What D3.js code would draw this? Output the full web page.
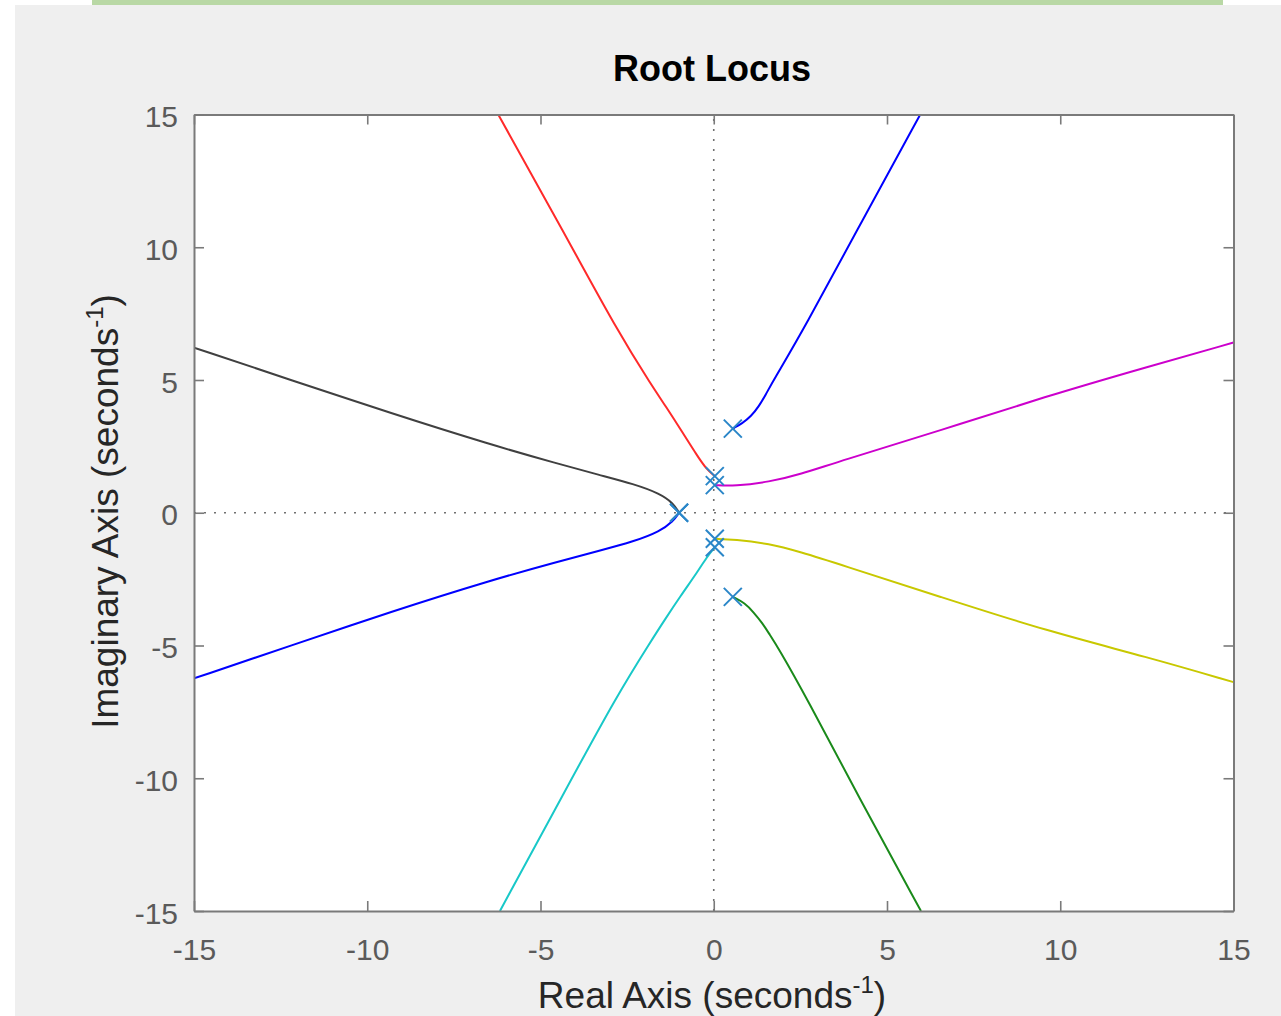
<!DOCTYPE html>
<html>
<head>
<meta charset="utf-8">
<script src="https://cdn.jsdelivr.net/npm/d3@7"></script>
<style>
  html, body { margin: 0; padding: 0; background: #ffffff; }
  svg { display: block; }
  text { font-family: "Liberation Sans", Arial, Helvetica, sans-serif; }
</style>
</head>
<body>
<svg id="chart" width="1281" height="1016"></svg>
<script>
// ---------------- data ----------------
const xTicks = [-15, -10, -5, 0, 5, 10, 15];
const yTicks = [-15, -10, -5, 0, 5, 10, 15];
const titleText = "Root Locus";
const xLabelText = "Real Axis (seconds";
const yLabelText = "Imaginary Axis (seconds";
const unitSup = "-1";

// open-loop poles (x markers)
const polesRe = [-1.0, -1.0, 0.55, 0.55, 0.03, 0.03, 0.03, 0.03];
const polesIm = [0, 0, 3.17, -3.17, 1.04, 1.38, -0.98, -1.30];

// locus branches: [real, imag]
const branchBlack = [[-15, 6.22], [-12.2, 5.0], [-9.3, 3.74], [-6.45, 2.57], [-4.5, 1.85], [-3.3, 1.42], [-2.3, 1.08], [-1.55, 0.72], [-1.17, 0.36], [-1.0, 0]];
const branchBlueLow = [[-15, -6.24], [-12.2, -5.0], [-9.3, -3.72], [-6.45, -2.55], [-4.5, -1.84], [-3.3, -1.43], [-2.3, -1.08], [-1.55, -0.70], [-1.17, -0.32], [-1.0, 0]];
const branchRed = [[-6.22, 15], [-4.3, 10.5], [-2.8, 6.89], [-1.77, 4.75], [-1.38, 4.0], [-0.9, 3.02], [-0.48, 2.15], [-0.2, 1.62], [0.03, 1.38]];
const branchBlueUp = [[0.55, 3.17], [0.82, 3.36], [1.08, 3.64], [1.3, 4.0], [1.5, 4.45], [1.73, 5.0], [2.59, 6.89], [4.3, 11.04], [5.96, 15]];
const branchMagenta = [[0.03, 1.04], [0.6, 1.0], [1.6, 1.16], [2.5, 1.45], [3.58, 1.92], [6.57, 3.11], [9.55, 4.37], [12.53, 5.5], [15, 6.41]];
const branchYellow = [[0.03, -0.98], [0.6, -1.01], [1.6, -1.16], [2.5, -1.48], [3.58, -1.92], [6.57, -3.18], [9.55, -4.43], [12.53, -5.44], [15, -6.38]];
const branchGreen = [[0.55, -3.17], [0.9, -3.4], [1.15, -3.75], [1.4, -4.15], [1.62, -4.6], [1.85, -5.06], [2.65, -6.89], [4.32, -11.04], [5.98, -15]];
const branchCyan = [[0.03, -1.30], [-0.2, -1.67], [-0.48, -2.25], [-0.95, -3.12], [-1.42, -4.04], [-1.77, -4.75], [-2.8, -6.89], [-4.3, -10.5], [-6.17, -15]];

const branches = [branchBlack, branchBlueLow, branchRed, branchBlueUp, branchMagenta, branchYellow, branchGreen, branchCyan];
const branchColors = ["#404040", "#0000ff", "#ff2a2a", "#0000ff", "#cc00cc", "#c8c800", "#1a8a1a", "#18c8c8"];

// ---------------- layout ----------------
const svg = d3.select("#chart");
const W = 1281, H = 1016;
const plot = { left: 194, right: 1233.5, top: 114.5, bottom: 911 };

// page background pieces
svg.append("rect").attr("x", 0).attr("y", 0).attr("width", W).attr("height", H).attr("fill", "#ffffff");
svg.append("rect").attr("x", 15).attr("y", 5).attr("width", W - 15).attr("height", H - 5).attr("fill", "#efefef");
svg.append("rect").attr("x", 92).attr("y", 0).attr("width", 1131).attr("height", 5).attr("fill", "#b9d8a5");

const x = d3.scaleLinear().domain([-15, 15]).range([plot.left, plot.right]);
const y = d3.scaleLinear().domain([-15, 15]).range([plot.bottom, plot.top]);

// plot area
svg.append("rect")
  .attr("x", plot.left).attr("y", plot.top)
  .attr("width", plot.right - plot.left).attr("height", plot.bottom - plot.top)
  .attr("fill", "#ffffff");

svg.append("clipPath").attr("id", "clip")
  .append("rect")
  .attr("x", plot.left).attr("y", plot.top)
  .attr("width", plot.right - plot.left).attr("height", plot.bottom - plot.top);

const g = svg.append("g").attr("clip-path", "url(#clip)");

// dotted zero lines
g.append("line")
  .attr("x1", x(-15)).attr("x2", x(15)).attr("y1", y(0)).attr("y2", y(0))
  .attr("stroke", "#707070").attr("stroke-width", 1.6).attr("stroke-dasharray", "2,8");
g.append("line")
  .attr("x1", x(0)).attr("x2", x(0)).attr("y1", y(-15)).attr("y2", y(15))
  .attr("stroke", "#707070").attr("stroke-width", 1.6).attr("stroke-dasharray", "2,8");

// branches
const line = d3.line()
  .x(d => x(d[0])).y(d => y(d[1]))
  .curve(d3.curveBasis);

branches.forEach((b, i) => {
  g.append("path")
    .attr("d", line(b))
    .attr("fill", "none")
    .attr("stroke", branchColors[i])
    .attr("stroke-width", 2)
    .attr("stroke-linejoin", "round");
});

// pole markers
const mk = 9;
polesRe.forEach((re, i) => {
  const cx = x(re), cy = y(polesIm[i]);
  g.append("path")
    .attr("d", `M${cx - mk},${cy - mk}L${cx + mk},${cy + mk}M${cx - mk},${cy + mk}L${cx + mk},${cy - mk}`)
    .attr("stroke", "#2a86c8")
    .attr("stroke-width", 2)
    .attr("fill", "none");
});

// axes (ticks inward, on all four sides)
const axisColor = "#7a7a7a";
const tickFont = 30;
const fmt = d => String(d);

const axB = svg.append("g").attr("transform", `translate(0,${plot.bottom})`)
  .call(d3.axisBottom(x).tickValues(xTicks).tickSize(-10).tickSizeOuter(0).tickPadding(28).tickFormat(fmt));
const axT = svg.append("g").attr("transform", `translate(0,${plot.top})`)
  .call(d3.axisTop(x).tickValues(xTicks).tickSize(-10).tickSizeOuter(0).tickFormat(""));
const axL = svg.append("g").attr("transform", `translate(${plot.left},0)`)
  .call(d3.axisLeft(y).tickValues(yTicks).tickSize(-10).tickSizeOuter(0).tickPadding(16).tickFormat(fmt));
const axR = svg.append("g").attr("transform", `translate(${plot.right},0)`)
  .call(d3.axisRight(y).tickValues(yTicks).tickSize(-10).tickSizeOuter(0).tickFormat(""));

[axB, axT, axL, axR].forEach(a => {
  a.select(".domain").attr("stroke", axisColor).attr("stroke-width", 2);
  a.selectAll(".tick line").attr("stroke", axisColor).attr("stroke-width", 1.6);
  a.selectAll(".tick text")
    .attr("fill", "#5a5a5a")
    .attr("font-size", tickFont)
    .attr("font-family", "'Liberation Sans', Arial, sans-serif");
});
axL.selectAll(".tick text").attr("dy", "0.40em");

// title
svg.append("text")
  .attr("x", 712).attr("y", 81)
  .attr("text-anchor", "middle")
  .attr("font-size", 36).attr("font-weight", "bold").attr("fill", "#000000")
  .text(titleText);

// x label
const xl = svg.append("text")
  .attr("x", 712).attr("y", 1008)
  .attr("text-anchor", "middle")
  .attr("font-size", 37).attr("fill", "#262626");
xl.append("tspan").text(xLabelText);
xl.append("tspan").attr("font-size", 24).attr("dy", -15).text(unitSup);
xl.append("tspan").attr("dy", 15).text(")");

// y label
const yl = svg.append("text")
  .attr("transform", "translate(118,511.5) rotate(-90)")
  .attr("text-anchor", "middle")
  .attr("font-size", 37).attr("fill", "#262626");
yl.append("tspan").text(yLabelText);
yl.append("tspan").attr("font-size", 24).attr("dy", -15).text(unitSup);
yl.append("tspan").attr("dy", 15).text(")");
</script>
</body>
</html>
